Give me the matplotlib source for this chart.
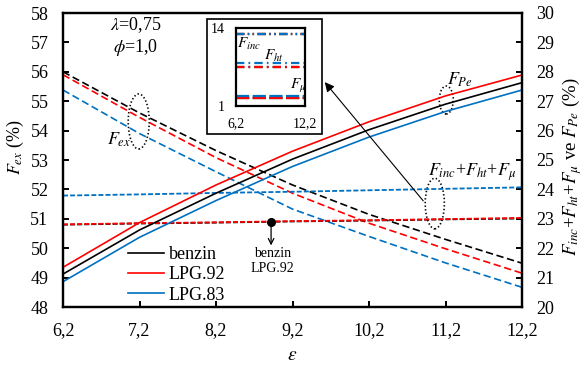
import matplotlib
matplotlib.use("Agg")
import matplotlib.pyplot as plt
from matplotlib.patches import Ellipse, Rectangle

plt.rcParams.update({
    "font.family": "serif",
    "font.serif": ["Liberation Serif", "DejaVu Serif"],
    "mathtext.fontset": "stix",
    "lines.scale_dashes": False,
})

# compression ratio
eps = [6.2, 7.2, 8.2, 9.2, 10.2, 11.2, 12.2]
eps_labels = ["6,2", "7,2", "8,2", "9,2", "10,2", "11,2", "12,2"]
fuels = ["benzin", "LPG.92", "LPG.83"]
colors = {"benzin": "black", "LPG.92": "#FF0000", "LPG.83": "#0070C0"}

# exergy fraction F_ex (%), left axis
f_ex = {
    "benzin": [56.0, 54.6, 53.32, 52.15, 51.15, 50.3, 49.49],
    "LPG.92": [55.9, 54.45, 53.08, 51.87, 50.85, 49.98, 49.15],
    "LPG.83": [55.38, 53.9, 52.6, 51.33, 50.4, 49.5, 48.67],
}
# piston work fraction F_Pe (%), right axis
f_pe = {
    "benzin": [21.12, 22.62, 23.87, 25.03, 26.03, 26.9, 27.63],
    "LPG.92": [21.35, 22.87, 24.15, 25.3, 26.3, 27.18, 27.89],
    "LPG.83": [20.86, 22.37, 23.62, 24.78, 25.78, 26.65, 27.38],
}
# F_inc + F_ht + F_mu (%), right axis
f_sum = {
    "benzin": [22.8, 22.84, 22.87, 22.91, 22.94, 22.98, 23.01],
    "LPG.92": [22.81, 22.85, 22.88, 22.92, 22.95, 22.99, 23.03],
    "LPG.83": [23.79, 23.83, 23.88, 23.92, 23.97, 24.02, 24.07],
}

# inset: individual loss terms
eps_inset = [6.2, 12.2]
f_inc = {"benzin": [13.0, 13.0], "LPG.92": [12.95, 12.95], "LPG.83": [13.05, 13.05]}
f_ht = {"benzin": [7.45, 7.45], "LPG.92": [7.45, 7.45], "LPG.83": [8.1, 8.1]}
f_mu = {"benzin": [2.3, 2.3], "LPG.92": [2.3, 2.3], "LPG.83": [2.67, 2.67]}

fig = plt.figure(figsize=(5.84, 3.69), dpi=100)
ax = fig.add_axes([63 / 584, 62 / 369, 459 / 584, 294 / 369])
ax2 = ax.twinx()

for f in fuels:
    ax.plot(eps, f_ex[f], color=colors[f], lw=1.2, dashes=(5.3, 2.6))
for f in fuels:
    ax2.plot(eps, f_sum[f], color=colors[f], lw=1.3, dashes=(3.6, 1.5))
handles = []
for f in fuels:
    h, = ax2.plot(eps, f_pe[f], color=colors[f], lw=1.2, label=f)
    handles.append(h)

ax.set_xlim(6.2, 12.2)
ax.set_ylim(48, 58)
ax2.set_ylim(20, 30)
ax.set_xticks(eps)
ax.set_xticklabels(eps_labels)
ax.set_yticks(range(48, 59))
ax2.set_yticks(range(20, 31))

for a in (ax, ax2):
    a.tick_params(direction="in", length=4, width=1.4, labelsize=13, pad=10.5)
    for s in a.spines.values():
        s.set_linewidth(1.6)
ax.tick_params(axis="x", pad=11)

ax.set_xlabel(r"$\varepsilon$", fontsize=14)
ax.xaxis.set_label_coords(0.5, -0.135)
ax.set_ylabel(r"$F_{ex}$ (%)", fontsize=13)
ax.yaxis.set_label_coords(-0.08, 0.544)
ax2.set_ylabel(r"$F_{inc}$+$F_{ht}$+$F_{\mu}$ ve $F_{Pe}$ (%)", fontsize=13.5)
ax2.yaxis.set_label_coords(1.084, 0.476)

ax2.legend(handles=handles, loc="upper left", bbox_to_anchor=(0.1416, 0.207),
           frameon=False, fontsize=13, handlelength=2.0, handletextpad=0.25,
           labelspacing=0.18, borderpad=0, borderaxespad=0)

# labels and markers on the main axes
ax.text(7.15, 57.2, r"$\lambda$=0,75" + "\n" + r"$\phi$=1,0", ha="center", va="center",
        fontsize=13, linespacing=1.15)
ax.text(6.77, 53.68, r"$F_{ex}$", fontsize=13, va="center")
ax.add_patch(Ellipse((7.19, 54.31), 0.275, 1.87, fill=False, ls=":", lw=1.2, color="black"))
ax2.text(11.22, 27.72, r"$F_{Pe}$", fontsize=13, va="center")
ax2.add_patch(Ellipse((11.21, 27.04), 0.183, 0.95, fill=False, ls=":", lw=1.2, color="black"))
ax2.text(10.97, 24.59, r"$F_{inc}$+$F_{ht}$+$F_{\mu}$", fontsize=13, va="center")
ax2.add_patch(Ellipse((11.06, 23.52), 0.25, 1.72, fill=False, ls=":", lw=1.2, color="black"))
ax2.annotate("", xy=(323, 289), xycoords="figure pixels", xytext=(425, 166),
             arrowprops=dict(arrowstyle="-|>", color="black", lw=0.8, mutation_scale=14))

ax2.plot([8.92], [22.9], "o", color="black", ms=5.5)
ax2.annotate("", xy=(8.92, 22.0), xytext=(8.92, 22.9),
             arrowprops=dict(arrowstyle="->", color="black", lw=0.9, mutation_scale=10))
ax2.text(8.94, 21.55, "benzin\nLPG.92", ha="center", va="center", fontsize=10, linespacing=1.2)

# inset frame and axes
frame = Rectangle((207 / 584, 235 / 369), 115 / 584, 115 / 369, transform=fig.transFigure,
                  facecolor="white", edgecolor="black", lw=1.2, zorder=2)
fig.patches.append(frame)
axi = fig.add_axes([236 / 584, 263 / 369, 69 / 584, 78 / 369])
axi.set_zorder(3)
for f in fuels:
    axi.plot(eps_inset, f_inc[f], color=colors[f], lw=1.6, dashes=(6, 2.5, 1, 2.5, 1, 2.5))
    axi.plot(eps_inset, f_ht[f], color=colors[f], lw=1.6, dashes=(6, 3, 1.2, 3))
    axi.plot(eps_inset, f_mu[f], color=colors[f], lw=1.6, dashes=(9.5, 2.5))
axi.set_xlim(6.2, 12.2)
axi.set_ylim(1, 14)
axi.set_xticks([6.2, 12.2])
axi.set_xticklabels(["6,2", "12,2"])
axi.set_yticks([1, 14])
axi.tick_params(length=0, labelsize=10, pad=8)
for s in axi.spines.values():
    s.set_linewidth(1.6)
axi.text(6.3, 11.4, r"$F_{inc}$", fontsize=11, va="center")
axi.text(8.6, 9.4, r"$F_{ht}$", fontsize=11, va="center")
axi.text(10.9, 4.3, r"$F_{\mu}$", fontsize=11, va="center")

fig.savefig("out.png", dpi=100)
